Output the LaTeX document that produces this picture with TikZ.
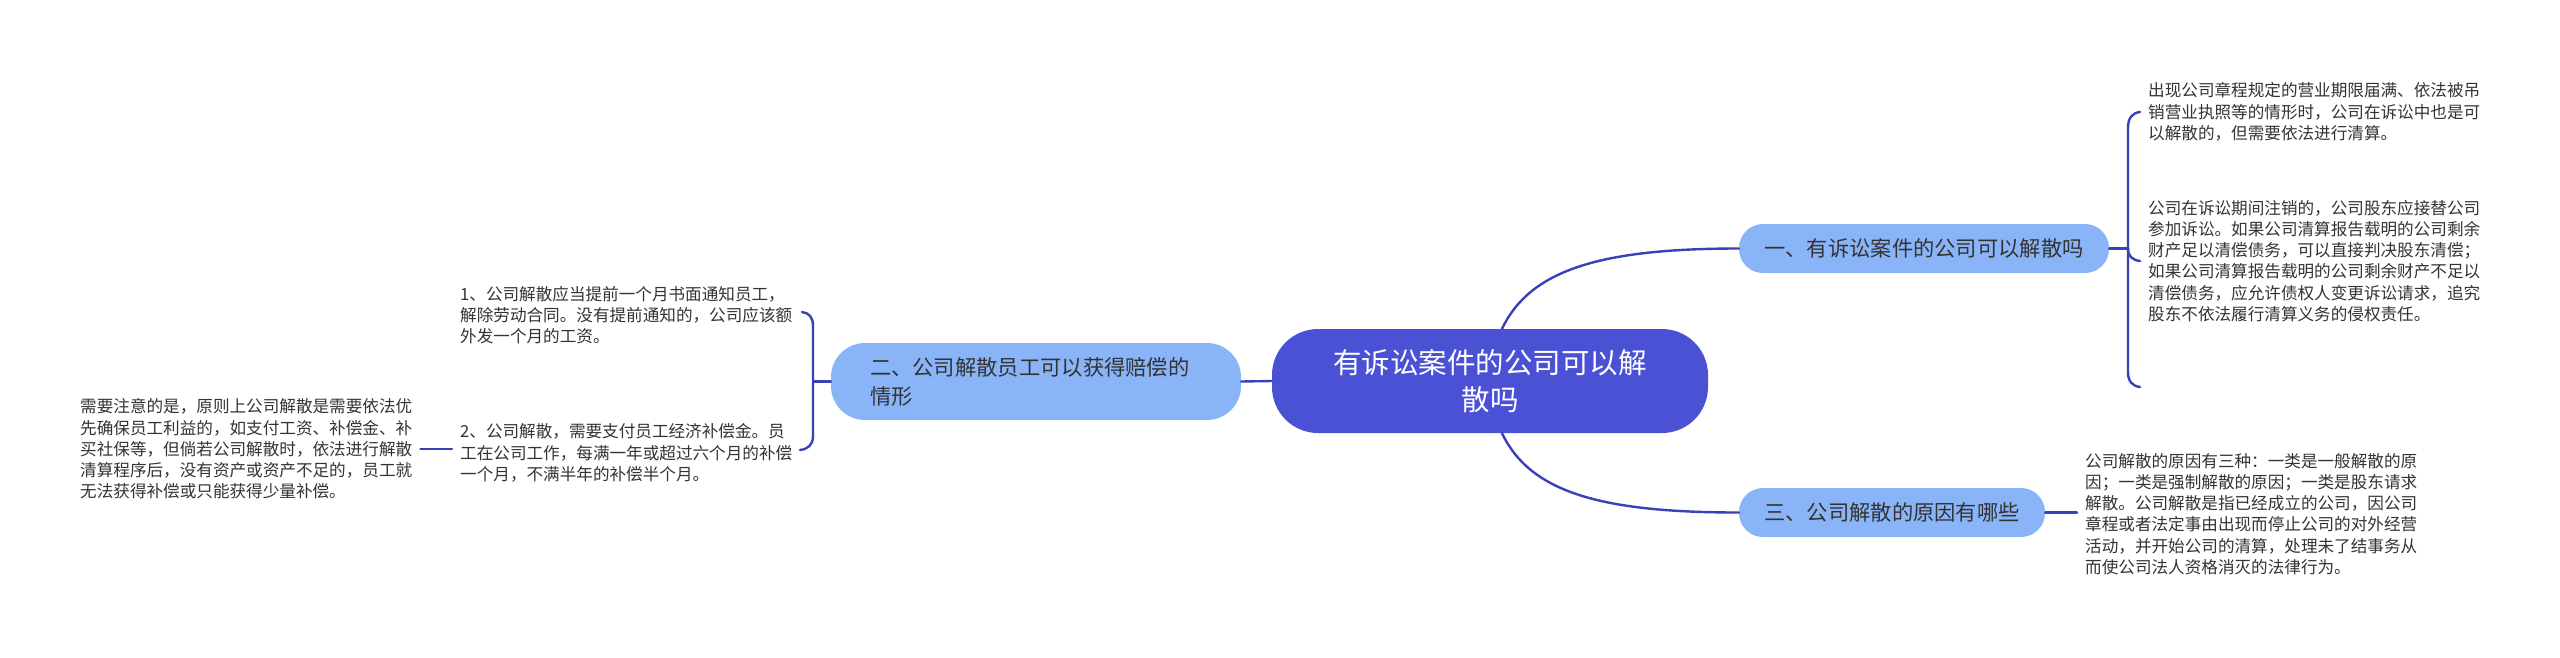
\documentclass[tikz,border=0pt]{standalone}
\usepackage{fontspec}
\setmainfont{Noto Sans CJK SC}
\definecolor{rootfill}{HTML}{4A51D5}
\definecolor{branchfill}{HTML}{8AB4F8}
\definecolor{linkcol}{HTML}{3A40B8}
\definecolor{txtcol}{HTML}{333333}
\begin{document}
\begin{tikzpicture}[x=1pt,y=-1pt,
  rootbox/.style={fill=rootfill,draw=none,rounded corners=46pt,minimum width=436pt,minimum height=104pt,
    text=white,align=center,inner sep=0pt,font=\fontsize{28.5pt}{37pt}\selectfont},
  branchbox/.style={fill=branchfill,draw=none,rounded corners=24pt,minimum height=49pt,
    text=txtcol,inner sep=0pt,font=\fontsize{21.3pt}{29pt}\selectfont},
  leaftext/.style={anchor=west,align=left,inner sep=0pt,text=txtcol,font=\fontsize{16.6pt}{21.3pt}\selectfont},
  link/.style={draw=linkcol,line width=2.4pt,line cap=round}]
\useasboundingbox[fill=white] (0,0) rectangle (2560,657);

% nodes
\node[rootbox] (root) at (1490,381) {有诉讼案件的公司可以解\\散吗};
\node[branchbox,minimum width=370pt] (b1) at (1924,248.5) {一、有诉讼案件的公司可以解散吗};
\node[branchbox,minimum width=306pt] (b3) at (1892,512.5) {三、公司解散的原因有哪些};
\node[branchbox,rounded corners=34pt,minimum width=410pt,minimum height=77pt,text width=332pt,align=left] (b2) at (1036,381.5) {二、公司解散员工可以获得赔偿的\\情形};

\node[leaftext] (r1) at (2148,112) {出现公司章程规定的营业期限届满、依法被吊\\销营业执照等的情形时，公司在诉讼中也是可\\以解散的，但需要依法进行清算。};
\node[leaftext] (r2) at (2148,261) {公司在诉讼期间注销的，公司股东应接替公司\\参加诉讼。如果公司清算报告载明的公司剩余\\财产足以清偿债务，可以直接判决股东清偿；\\如果公司清算报告载明的公司剩余财产不足以\\清偿债务，应允许债权人变更诉讼请求，追究\\股东不依法履行清算义务的侵权责任。};
\node[leaftext] (r3) at (2085,514) {公司解散的原因有三种：一类是一般解散的原\\因；一类是强制解散的原因；一类是股东请求\\解散。公司解散是指已经成立的公司，因公司\\章程或者法定事由出现而停止公司的对外经营\\活动，并开始公司的清算，处理未了结事务从\\而使公司法人资格消灭的法律行为。};
\node[leaftext] (l1) at (460,315) {1、公司解散应当提前一个月书面通知员工，\\解除劳动合同。没有提前通知的，公司应该额\\外发一个月的工资。};
\node[leaftext] (l2) at (460,453) {2、公司解散，需要支付员工经济补偿金。员\\工在公司工作，每满一年或超过六个月的补偿\\一个月，不满半年的补偿半个月。};
\node[leaftext] (ll) at (80,449) {需要注意的是，原则上公司解散是需要依法优\\先确保员工利益的，如支付工资、补偿金、补\\买社保等，但倘若公司解散时，依法进行解散\\清算程序后，没有资产或资产不足的，员工就\\无法获得补偿或只能获得少量补偿。};

% bracket coordinates
\coordinate (k1) at (2128,248.5);
\coordinate (k1top) at (2140,112);
\coordinate (k1mid) at (2140,261);
\coordinate (k1bot) at (2140,387);
\coordinate (k2) at (813,381.5);
\coordinate (k2top) at (802,312);
\coordinate (k2bot) at (800,450);
\coordinate (k3) at (2077,512.5);
\coordinate (k4) at (452,449);

% root connectors
\draw[link] ([xshift=12pt]root.north) .. controls (1530,270) and (1600,248.5) .. (b1.west);
\draw[link] ([xshift=12pt]root.south) .. controls (1530,492) and (1600,512.5) .. (b3.west);
\draw[link] (root.west) -- (b2.east);

% branch 1 bracket
\draw[link] (b1.east) -- (k1);
\draw[link] (k1top) .. controls (2132,113) and (2128,118) .. (2128,128) -- (2128,372) .. controls (2128,381) and (2132,386) .. (k1bot);
\draw[link] (k1) .. controls (2128,256) and (2132,260) .. (k1mid);

% branch 3
\draw[link] (b3.east) -- (k3);

% branch 2 bracket
\draw[link] (b2.west) -- (k2);
\draw[link] (k2top) .. controls (809,313) and (813,317) .. (813,326) -- (813,436) .. controls (813,445) and (808,449) .. (k2bot);
\draw[link] ([xshift=8pt]ll.east |- k4) -- (k4);
\end{tikzpicture}
\end{document}
